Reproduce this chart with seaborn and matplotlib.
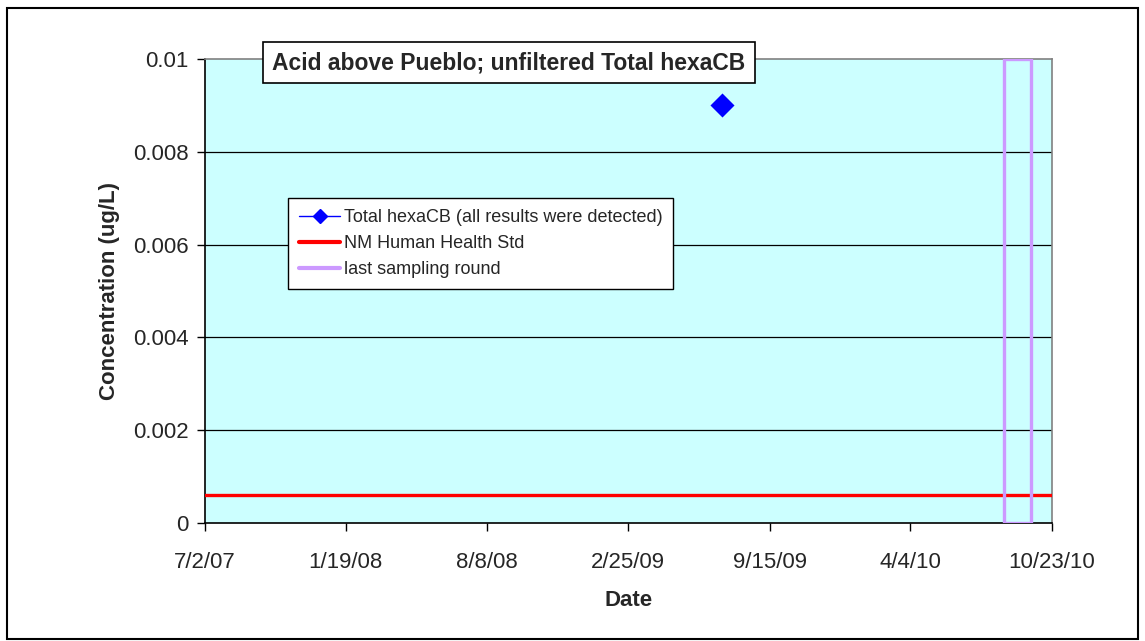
import matplotlib
matplotlib.use("Agg")
import matplotlib.pyplot as plt
from matplotlib.patches import Rectangle
from matplotlib.lines import Line2D
import seaborn as sns
import pandas as pd

# ---- data ----
sample_dates = ["2009-07-09"]
hexacb_values = [0.009]

std_dates = ["2007-07-02", "2010-10-23"]
std_values = [0.0006, 0.0006]

round_dates = ["2010-08-16", "2010-08-16", "2010-09-23", "2010-09-23", "2010-08-16"]
round_values = [0.0, 0.01, 0.01, 0.0, 0.0]

tick_dates = ["2007-07-02", "2008-01-19", "2008-08-08", "2009-02-25",
              "2009-09-15", "2010-04-04", "2010-10-23"]
tick_labels = ["7/2/07", "1/19/08", "8/8/08", "2/25/09", "9/15/09", "4/4/10", "10/23/10"]
y_ticks = [0, 0.002, 0.004, 0.006, 0.008, 0.01]
y_tick_labels = ["0", "0.002", "0.004", "0.006", "0.008", "0.01"]

title = "Acid above Pueblo; unfiltered Total hexaCB"
series_names = ["Total hexaCB (all results were detected)", "NM Human Health Std", "last sampling round"]

# ---- style ----
sns.set_theme(style="white")
plt.rcParams["font.family"] = ["Liberation Sans", "DejaVu Sans"]

fig = plt.figure(figsize=(11.45, 6.41), dpi=100)
ax = fig.add_axes([205 / 1145, 1 - 523 / 641, (1052 - 205) / 1145, (523 - 59) / 641])
ax.set_facecolor("#CCFFFF")

df_s = pd.DataFrame({"date": pd.to_datetime(sample_dates), "value": hexacb_values})
df_std = pd.DataFrame({"date": pd.to_datetime(std_dates), "value": std_values})
df_r = pd.DataFrame({"date": pd.to_datetime(round_dates), "value": round_values})

# grid lines
for yv in y_ticks[1:-1]:
    ax.axhline(yv, color="black", linewidth=0.9, zorder=1)

sns.lineplot(data=df_std, x="date", y="value", ax=ax, color="#FF0000", linewidth=2.4,
             estimator=None, sort=False, zorder=3)
sns.lineplot(data=df_r, x="date", y="value", ax=ax, color="#CC99FF", linewidth=2.4,
             estimator=None, sort=False, zorder=4)
sns.scatterplot(data=df_s, x="date", y="value", ax=ax, marker="D", s=150,
                color="#0000FF", edgecolor="#0000FF", linewidth=0, zorder=5)

ax.set_xlim(pd.Timestamp(tick_dates[0]), pd.Timestamp(tick_dates[-1]))
ax.set_ylim(0, 0.01)
ax.set_xticks(pd.to_datetime(tick_dates))
ax.set_xticklabels(tick_labels, fontsize=16)
ax.set_yticks(y_ticks)
ax.set_yticklabels(y_tick_labels, fontsize=16)
ax.tick_params(axis="both", direction="out", length=6, width=1, color="black",
               bottom=True, left=True)
ax.tick_params(axis="x", pad=15)
ax.tick_params(axis="y", pad=6)

ax.set_xlabel("Date", fontsize=16, fontweight="bold", labelpad=12)
ax.set_ylabel("Concentration (ug/L)", fontsize=16, fontweight="bold", labelpad=9)

for side in ["left", "bottom"]:
    ax.spines[side].set_color("black")
    ax.spines[side].set_linewidth(1.2)
for side in ["top", "right"]:
    ax.spines[side].set_color("#808080")
    ax.spines[side].set_linewidth(1.2)

# legend
handles = [
    Line2D([], [], color="#0000FF", linewidth=1, marker="D", markersize=7),
    Line2D([], [], color="#FF0000", linewidth=3),
    Line2D([], [], color="#CC99FF", linewidth=3),
]
leg = ax.legend(handles, series_names, loc="upper left", bbox_to_anchor=(0.098, 0.70),
                fontsize=13, frameon=True, fancybox=False, framealpha=1,
                edgecolor="black", handlelength=2.3, handletextpad=0.2,
                borderpad=0.6, labelspacing=0.5, borderaxespad=0)
leg.get_frame().set_linewidth(1.0)

# title box
ax.text(0.359, 0.992, title, transform=ax.transAxes, ha="center", va="center",
        fontsize=16.5, fontweight="bold", zorder=10,
        bbox=dict(boxstyle="square,pad=0.4", facecolor="white", edgecolor="black", linewidth=1.2))

# outer border
fig.patches.append(Rectangle((7 / 1145, 2 / 641), (1138 - 7) / 1145, (636 - 5) / 641,
                             transform=fig.transFigure, fill=False, edgecolor="black", linewidth=1.5))

fig.savefig("out.png", dpi=100)
